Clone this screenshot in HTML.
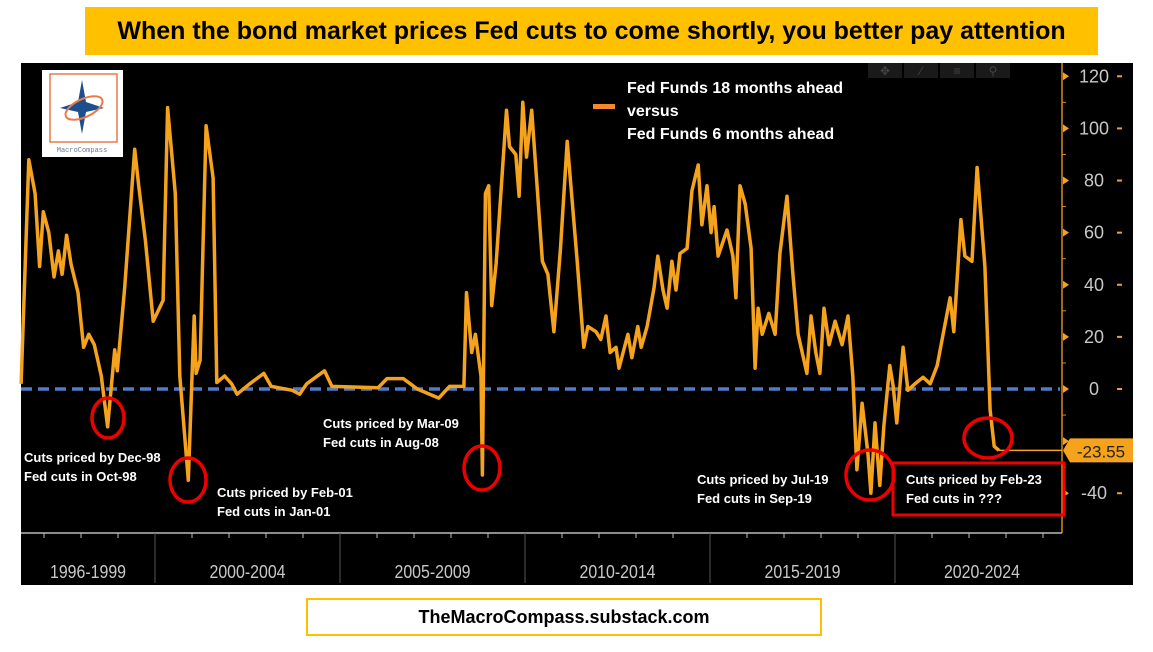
<!DOCTYPE html>
<html><head><meta charset="utf-8">
<style>
body{margin:0;width:1153px;height:652px;background:#fff;overflow:hidden;font-family:"Liberation Sans",sans-serif;}
#title{position:absolute;left:85px;top:7px;width:1013px;height:48px;background:#ffc000;display:flex;align-items:center;justify-content:center;font-weight:bold;font-size:25px;color:#000;}
#footer{position:absolute;left:306px;top:598px;width:512px;height:34px;border:2px solid #ffc000;display:flex;align-items:center;justify-content:center;font-weight:bold;font-size:18px;}
svg{position:absolute;left:0;top:0;}
</style></head><body>
<div id="title">When the bond market prices Fed cuts to come shortly, you better pay attention</div>
<svg id="chart" width="1153" height="652"></svg>
<div id="footer">TheMacroCompass.substack.com</div>
<script>
const years=[1996.38,1996.59,1996.76,1996.88,1996.98,1997.13,1997.27,1997.39,1997.49,1997.61,1997.73,1997.92,1998.07,1998.21,1998.36,1998.55,1998.72,1998.91,1998.98,1999.18,1999.45,1999.56,1999.74,1999.95,2000.22,2000.34,2000.55,2000.67,2000.90,2001.06,2001.11,2001.22,2001.38,2001.57,2001.67,2001.88,2002.07,2002.22,2002.56,2002.94,2003.14,2003.71,2003.91,2004.10,2004.58,2004.78,2006.03,2006.27,2006.71,2007.09,2007.67,2007.96,2008.35,2008.42,2008.56,2008.66,2008.81,2008.85,2008.93,2009.02,2009.10,2009.22,2009.50,2009.58,2009.75,2009.84,2009.94,2010.04,2010.18,2010.47,2010.62,2010.78,2010.96,2011.14,
2011.41,2011.59,2011.70,2011.92,2012.05,2012.19,2012.30,2012.46,2012.54,2012.78,2012.89,2013.05,2013.14,2013.30,2013.49,2013.59,2013.73,2013.84,2013.97,2014.08,2014.19,2014.38,2014.51,2014.68,2014.78,2014.92,2015.03,2015.11,2015.22,2015.46,2015.62,2015.70,2015.81,2015.95,2016.11,2016.22,2016.30,2016.41,2016.59,2016.76,2016.89,2017.08,2017.24,2017.38,2017.62,2017.73,2017.86,2017.97,2018.08,2018.22,2018.38,2018.57,2018.73,2018.86,2018.97,2019.11,2019.27,2019.35,2019.46,2019.59,2019.70,2019.86,2019.95,2020.05,2020.22,2020.35,2020.54,2020.76,2020.95,2021.14,2021.30,2021.49,2021.59,2021.78,2021.89,2022.08,2022.22,2022.43,2022.57,2022.68,2022.81];
const values=[2,88,75,47,68,60,43,53,44,59,48,37,16,21,17,5,-14.5,15,7,39,92,78,57,26,34,108,75,5,-35,28,6,11,101,81,2.5,5,2,-2,2,6,1,-0.5,-2,2,7,1,0.5,4,4,0,-3.5,1,1,37,14,21,5,-33,75,78,32,48,107,93,90,74,110,89,107,49,44,22,54,95,
49,16,24,22,19,28,14,16,8,21,12,24,16,24,39,51,38,31,49,38,52,54,76,86,63,78,60,70,51,61,51,35,78,71,54,8,31,21,29,21,52,74,44,21,6,28,14,6,31,17,26,17,28,5,-31,-5.5,-25,-40,-13,-37,-14,9,1,-13,16,-0.5,2,4.5,2,9,21,35,22,65,51,49,85,47,-8,-22,-23.55];
const yTicks=[120,100,80,60,40,20,0,-20,-40];
const periods=["1996-1999","2000-2004","2005-2009","2010-2014","2015-2019","2020-2024"];
const periodStart=[1996,2000,2005,2010,2015,2020];
const lastValue=-23.55;
const NS="http://www.w3.org/2000/svg";
const svg=document.getElementById('chart');
const X=t=>155+(t-2000)*37;
const Y=v=>389-v*2.606;
function mk(tag,attrs,parent){const e=document.createElementNS(NS,tag);for(const k in attrs)e.setAttribute(k,attrs[k]);(parent||svg).appendChild(e);return e;}
let bg=mk('rect',{x:21,y:63,width:1112,height:522,fill:'#000'});


['✥','∕','≡','⚲'].forEach((s,i)=>{let r=mk('rect',{x:868+i*36,y:63,width:34,height:15,fill:'#1a1a1a'});


let t=mk('text',{x:885+i*36,y:75,fill:'#444','font-size':12,'text-anchor':'middle'});t.textContent=s;

});
let ax=mk('line',{x1:1062,y1:63,x2:1062,y2:533,stroke:'#d48a1c','stroke-width':1.5});


yTicks.forEach(v=>{const y=Y(v);
let tr=mk('path',{d:`M1063 ${y-4} L1069 ${y} L1063 ${y+4}Z`,fill:'#f5a21c'});


let tk=mk('line',{x1:1117,y1:y,x2:1122,y2:y,stroke:'#f5a21c','stroke-width':2});


if(v!==-20){let t=mk('text',{x:1094,y:y+6,fill:'#c8c8c8','font-size':18,'text-anchor':'middle'});t.textContent=v;

}
const ym=Y(v+10);if(v<120){let m=mk('line',{x1:1062,y1:ym,x2:1066,y2:ym,stroke:'#d48a1c'});

}});
let zl=mk('line',{x1:21,y1:Y(0),x2:1060,y2:Y(0),stroke:'#4f7bc7','stroke-width':3.5,'stroke-dasharray':'11,6'});


let d=years.map((t,i)=>(i?'L':'M')+X(t).toFixed(1)+' '+Y(values[i]).toFixed(1)).join(' ');
let ln=mk('path',{d:d,fill:'none',stroke:'#f5a21c','stroke-width':3.5,'stroke-linejoin':'round'});


const lx=X(years[years.length-1]);
let cl=mk('line',{x1:lx,y1:Y(lastValue),x2:1062,y2:Y(lastValue),stroke:'#f5a21c','stroke-width':1.5});


let vb=mk('path',{d:`M1063 ${Y(lastValue)} L1070 ${Y(lastValue)-12} H1133 V${Y(lastValue)+12} H1070Z`,fill:'#f5a21c'});


let vt=mk('text',{x:1101,y:Y(lastValue)+7,fill:'#222','font-size':17,'text-anchor':'middle'});vt.textContent=lastValue.toFixed(2);


let xa=mk('line',{x1:21,y1:533,x2:1062,y2:533,stroke:'#bbb','stroke-width':1.5});


for(let t=1996;t<=2024;t++){let x=X(t);if(x<21)continue;let k=mk('line',{x1:x,y1:533,x2:x,y2:538,stroke:'#bbb'});

}
periods.forEach((p,i)=>{const s=periodStart[i];if(i>0){let dv=mk('line',{x1:X(s),y1:533,x2:X(s),y2:583,stroke:'#555'});

}
const e=i<periods.length-1?periodStart[i+1]:2024.7;const c=(Math.max(X(s),21)+X(e))/2;
let t=mk('text',{x:c,y:578,fill:'#c8c8c8','font-size':18,'text-anchor':'middle',textLength:76,lengthAdjust:'spacingAndGlyphs'});t.textContent=p;

});
let lg=mk('rect',{x:593,y:104,width:22,height:5,fill:'#f58a2c'});


['Fed Funds 18 months ahead','versus','Fed Funds 6 months ahead'].forEach((s,i)=>{let t=mk('text',{x:627,y:93+i*23,fill:'#fff','font-size':16,'font-weight':'bold'});t.textContent=s;

});
[[108,418,16,20],[188,480,18,22],[482,468,18,22],[870,475,24,25],[988,438,24,20]].forEach(c=>{let e=mk('ellipse',{cx:c[0],cy:c[1],rx:c[2],ry:c[3],fill:'none',stroke:'#e00','stroke-width':3.5});

});
let rb=mk('rect',{x:893,y:463,width:171,height:52,fill:'none',stroke:'#e00','stroke-width':3});


[[24,462,'Cuts priced by Dec-98','Fed cuts in Oct-98'],[217,497,'Cuts priced by Feb-01','Fed cuts in Jan-01'],[323,428,'Cuts priced by Mar-09','Fed cuts in Aug-08'],[697,484,'Cuts priced by Jul-19','Fed cuts in Sep-19'],[906,484,'Cuts priced by Feb-23','Fed cuts in ???']].forEach(a=>{
[a[2],a[3]].forEach((s,i)=>{let t=mk('text',{x:a[0],y:a[1]+i*19,fill:'#fff','font-size':13,'font-weight':'bold'});t.textContent=s;

});});
const g=mk('g',{});


mk('rect',{x:42,y:70,width:81,height:87,fill:'#fff'},g);
mk('rect',{x:50,y:74,width:67,height:68,fill:'none',stroke:'#e87a4a','stroke-width':1.5},g);
mk('path',{d:'M82 80 L86 102 L104 108 L86 112 L82 134 L78 112 L60 108 L78 102Z',fill:'#1d4f8c'},g);
mk('ellipse',{cx:84,cy:108,rx:20,ry:9,fill:'none',stroke:'#e87a4a','stroke-width':2,transform:'rotate(-25 84 108)'},g);
let lt=mk('text',{x:82,y:152,fill:'#6a7a9a','font-size':7,'text-anchor':'middle','font-family':'Liberation Mono'},g);lt.textContent='MacroCompass';
</script>
</body></html>
